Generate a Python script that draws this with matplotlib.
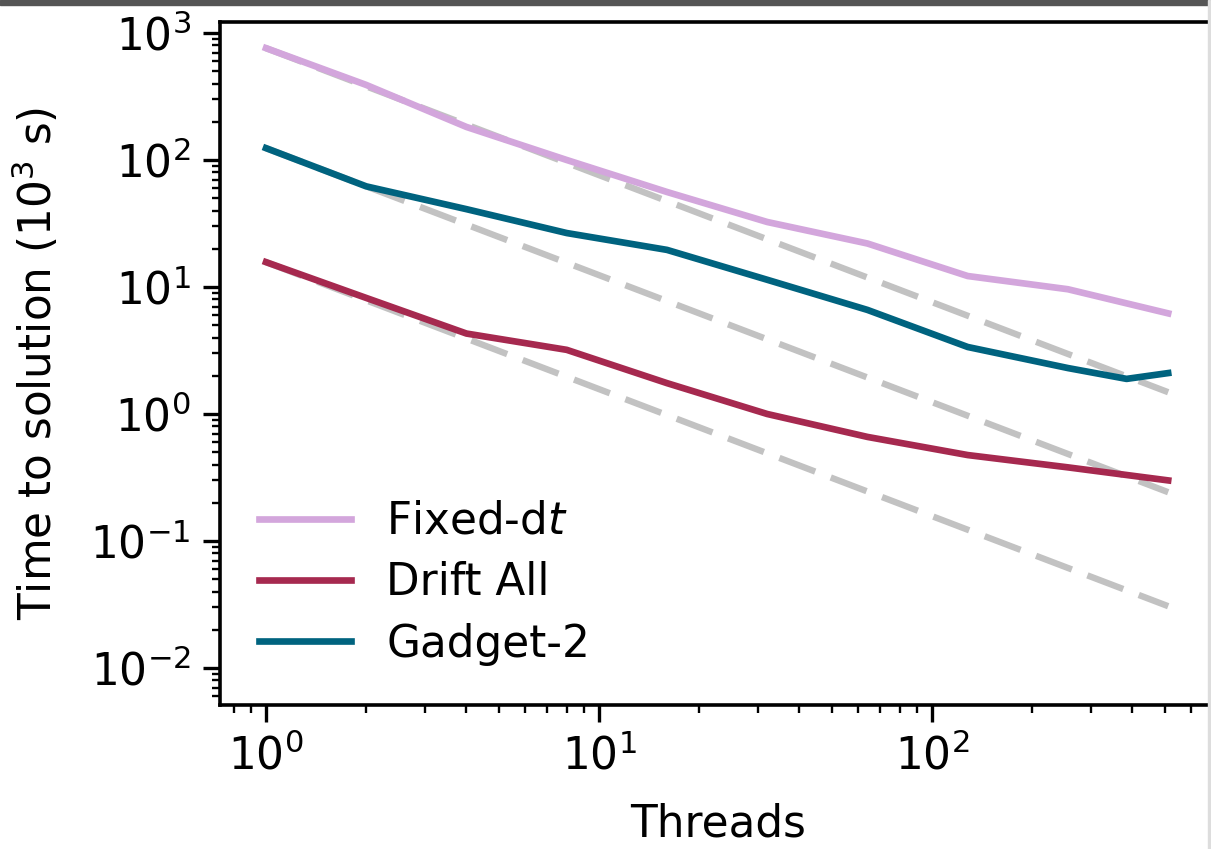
import numpy as np
import matplotlib
matplotlib.use("Agg")
import matplotlib.pyplot as plt
from matplotlib.patches import Rectangle

threads = [1, 2, 4, 8, 16, 32, 64, 128, 256, 512]
fixed_dt = [760, 390, 182, 100, 56, 32.5, 22, 12.2, 9.6, 6.2]
drift_all = [15.7, 8.2, 4.3, 3.2, 1.75, 1.0, 0.66, 0.475, 0.38, 0.30]
gadget_threads = [1, 2, 4, 8, 16, 32, 64, 128, 256, 384, 512]
gadget2 = [124, 62, 41, 26.6, 19.6, 11.4, 6.6, 3.37, 2.3, 1.89, 2.1]

labels = ["Fixed-d$t$", "Drift All", "Gadget-2"]
colors = ["#d3a6dc", "#a6294f", "#00637f"]

plt.rcParams['font.family'] = ['DejaVu Sans']
plt.rcParams['font.size'] = 31.5

W, H = 1211, 849
fig = plt.figure(figsize=(W / 100, H / 100), dpi=100)
left, right, bottom, top = 220, 1216, 705, 22
ax = fig.add_axes([left / W, (H - bottom) / H, (right - left) / W, (bottom - top) / H])
ax.set_xscale('log')
ax.set_yscale('log')

t = np.array(threads, dtype=float)
# ideal scaling references
for series in (fixed_dt, gadget2, drift_all):
    ax.plot(t, series[0] / t, ls=(0, (6, 2.6)), color='#c2c2c2', lw=4.6, zorder=1)

ax.plot(threads, fixed_dt, color=colors[0], lw=4.8, label=labels[0], zorder=2)
ax.plot(threads, drift_all, color=colors[1], lw=4.8, label=labels[1], zorder=2)
ax.plot(gadget_threads, gadget2, color=colors[2], lw=4.8, label=labels[2], zorder=2)

ax.set_xlim(10 ** ((left - 266) / 333), 10 ** ((right - 266) / 333))
ax.set_ylim(10 ** (-(bottom - 414) / 127), 10 ** ((414 - top) / 127))

ax.set_xlabel("Threads", labelpad=17)
ax.set_ylabel("Time to solution (10$^3$ s)", labelpad=21)

for s in ax.spines.values():
    s.set_linewidth(2.6)
ax.tick_params(which='major', length=12, width=2.4, pad=9)
ax.tick_params(which='minor', length=6, width=1.7)

leg = ax.legend(loc='lower left', frameon=False, bbox_to_anchor=(0.0, 0.0),
                handlelength=2.1, labelspacing=0.42, borderaxespad=0.5)

fig.patches.append(Rectangle((0, 1 - 5 / H), 1, 5 / H, transform=fig.transFigure,
                             color='#555555', zorder=10))
fig.patches.append(Rectangle((1 - 3 / W, 0), 2 / W, 1, transform=fig.transFigure,
                             color='#dddddd', zorder=10))

fig.savefig("out.png", dpi=100)
